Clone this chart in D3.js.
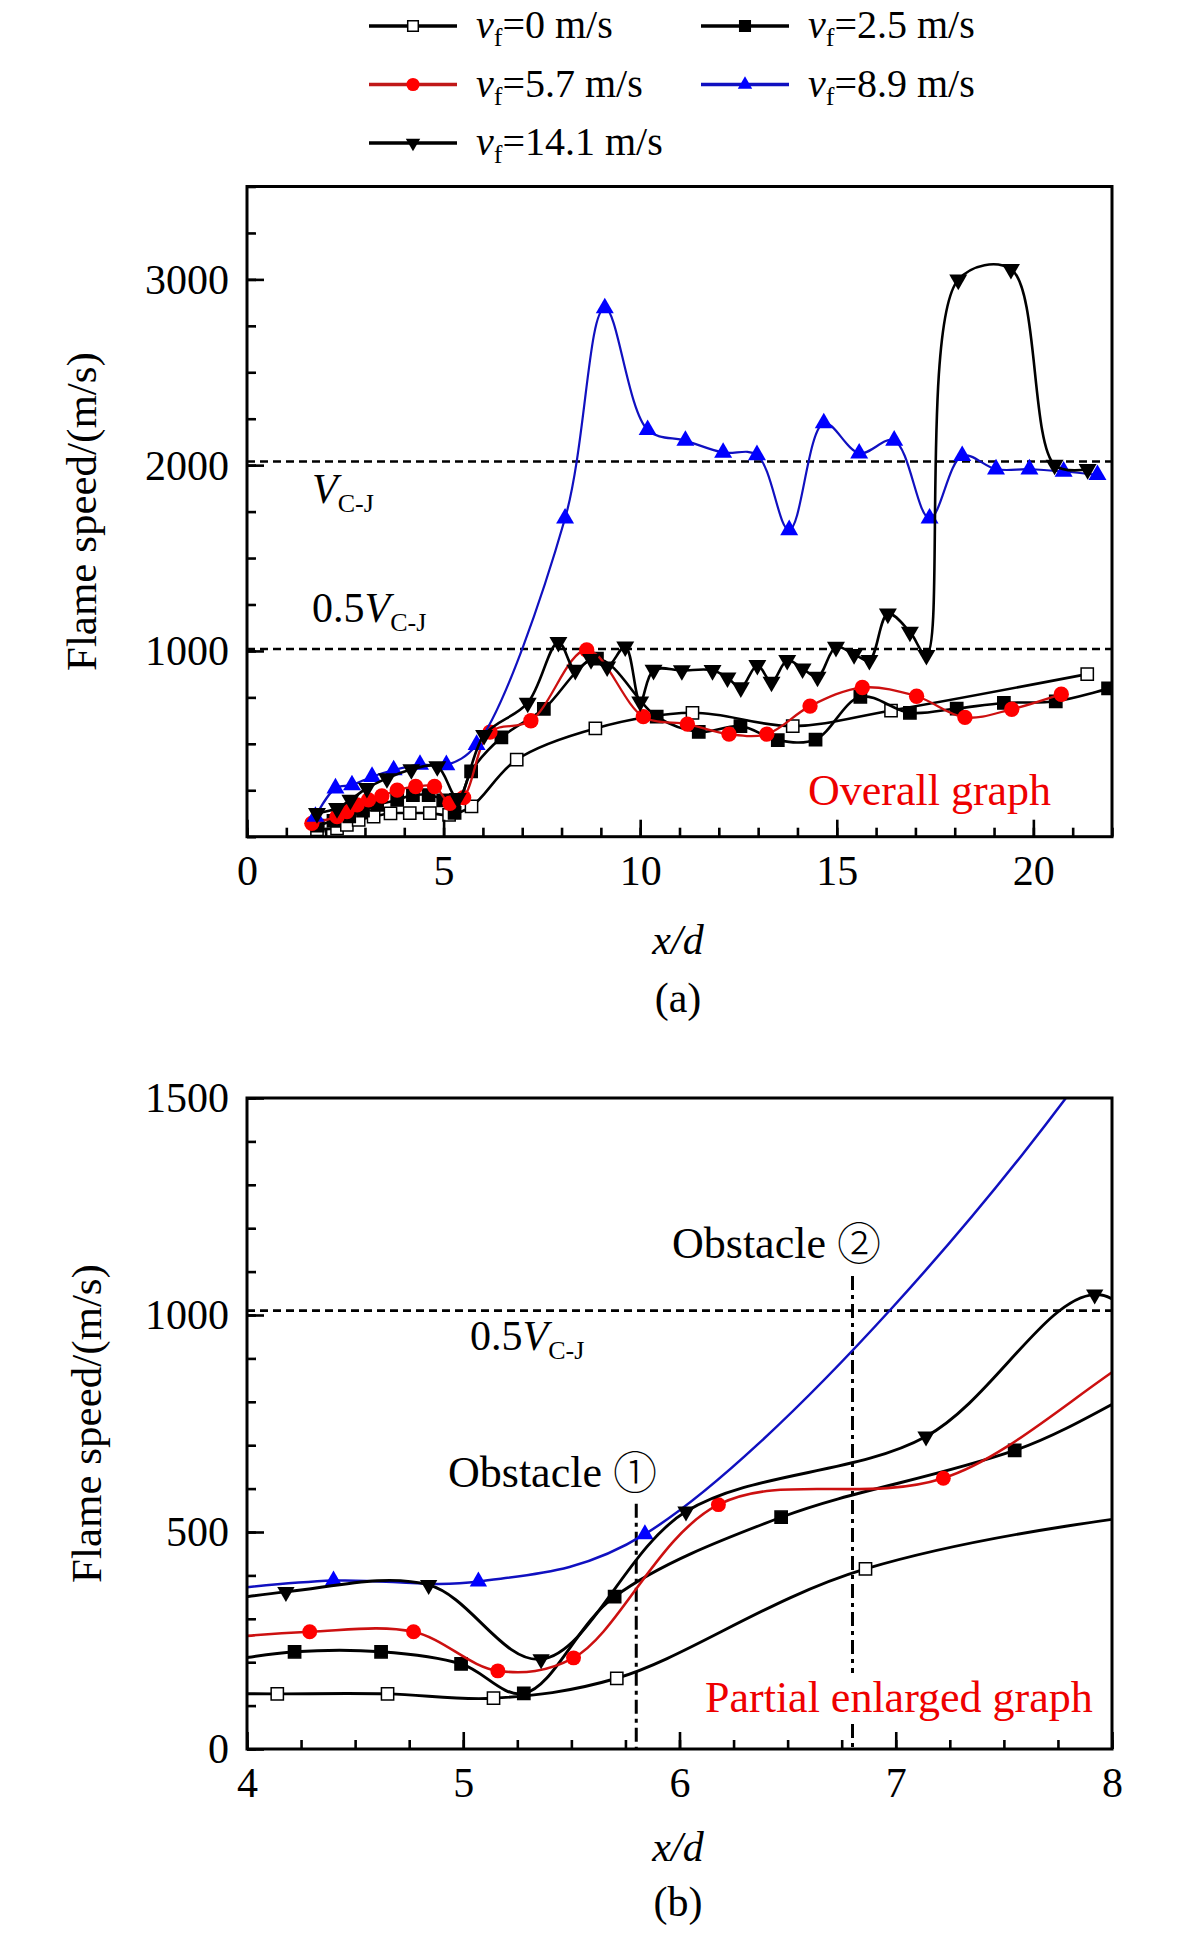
<!DOCTYPE html>
<html>
<head>
<meta charset="utf-8">
<script src="https://cdn.jsdelivr.net/npm/d3@7"></script>
<style>
  body { margin: 0; background: #fff; }
  text { font-family: "Liberation Serif", "Times New Roman", serif; }
</style>
</head>
<body>
<svg id="chart" width="1181" height="1937"></svg>
<script>
// x/d positions and flame speeds (m/s), one pair per vf
var xd_v0   = [1.78, 2.29, 2.54, 2.84, 3.22, 3.65, 4.14, 4.65, 5.14, 5.71, 6.86, 8.86, 11.33, 13.88, 16.38, 21.37];
var fs_v0   = [40, 45, 63, 90, 108, 126, 127, 127, 117, 163, 415, 583, 667, 595, 679, 875];

var xd_v25  = [1.8, 2.2, 2.6, 2.95, 3.31, 3.82, 4.22, 4.62, 4.99, 5.28, 5.70, 6.47, 7.55, 8.9, 10.42, 11.49, 12.55, 13.5, 14.46, 15.6, 16.86, 18.05, 19.25, 20.57, 21.9];
var fs_v25  = [60, 85, 110, 140, 171, 198, 224, 224, 196, 128, 351, 534, 688, 958, 646, 564, 595, 520, 523, 753, 667, 690, 720, 729, 798];

var xd_v57  = [1.65, 2.29, 2.54, 2.8, 3.09, 3.43, 3.82, 4.29, 4.77, 5.16, 5.51, 6.18, 7.22, 8.64, 10.08, 11.2, 12.26, 13.22, 14.32, 15.65, 17.03, 18.26, 19.45, 20.71];
var fs_v57  = [72, 108, 135, 171, 198, 219, 251, 270, 270, 180, 210, 563, 624, 1005, 646, 606, 552, 552, 703, 803, 756, 642, 686, 767];

var xd_v89  = [1.74, 2.25, 2.67, 3.18, 3.73, 4.40, 5.07, 5.84, 8.09, 9.10, 10.19, 11.15, 12.11, 12.97, 13.79, 14.67, 15.57, 16.46, 17.36, 18.19, 19.05, 19.90, 20.77, 21.63];
var fs_v89  = [108, 261, 278, 323, 359, 388, 386, 495, 1714, 2845, 2190, 2132, 2068, 2055, 1651, 2226, 2064, 2133, 1714, 2050, 1978, 1978, 1966, 1948];

var xd_v141 = [1.78, 2.29, 2.63, 3.05, 3.56, 4.18, 4.84, 5.36, 6.03, 7.14, 7.92, 8.35, 8.75, 9.16, 9.62, 10.0, 10.34, 11.06, 11.84, 12.22, 12.56, 12.98, 13.34, 13.74, 14.13, 14.51, 14.98, 15.44, 15.83, 16.3, 16.86, 17.28, 18.09, 19.43, 20.54, 21.38];
var fs_v141 = [126, 153, 198, 261, 314, 362, 378, 207, 547, 720, 1047, 897, 955, 915, 1023, 727, 897, 895, 896, 856, 803, 923, 833, 950, 905, 860, 1021, 982, 950, 1200, 1102, 977, 2998, 3055, 2001, 1978];

var vfLabels = ["0", "2.5", "5.7", "8.9", "14.1"];
var vCJ = 2020;                 // C-J speed, dashed reference lines at vCJ and vCJ/2
var obstacleX = [5.8, 6.8];     // obstacle positions, panel (b)
var obstacleTop = [565, 1090];  // where the dash-dot markers stop
var obstacleText = ["\u2460", "\u2461"];

var ticksA_x = [0, 5, 10, 15, 20];
var ticksA_y = [1000, 2000, 3000];
var ticksB_x = [4, 5, 6, 7, 8];
var ticksB_y = [0, 500, 1000, 1500];

var series = [
  {xs: xd_v0,   ys: fs_v0,   type: d3.symbolSquare,   fill: "#fff",    mstroke: "#000", line: "#000",    lw: 2.6, rot: 0},
  {xs: xd_v25,  ys: fs_v25,  type: d3.symbolSquare,   fill: "#000",    mstroke: "#000", line: "#000",    lw: 2.6, rot: 0},
  {xs: xd_v57,  ys: fs_v57,  type: d3.symbolCircle,   fill: "#ff0000", mstroke: "none", line: "#cc1010", lw: 2.3, rot: 0},
  {xs: xd_v89,  ys: fs_v89,  type: d3.symbolTriangle, fill: "#0000ff", mstroke: "none", line: "#1010c0", lw: 2.2, rot: 0},
  {xs: xd_v141, ys: fs_v141, type: d3.symbolTriangle, fill: "#000",    mstroke: "none", line: "#000",    lw: 2.6, rot: 180}
];

var svg = d3.select("#chart");
svg.append("rect").attr("width", 1181).attr("height", 1937).attr("fill", "#fff");

var L = 247, R = 1112;

// marker area: 0 legend, 1 panel (a), 2 panel (b)
function symSize(s, which) {
  if (s.type === d3.symbolSquare) return [112, 150, 150][which];
  if (s.type === d3.symbolCircle) return [135, 185, 175][which];
  return [90, 140, 130][which];
}

function subText(g, x, y, pre, sub, size) {
  var t = g.append("text").attr("x", x).attr("y", y).attr("font-size", size).attr("fill", "#000");
  if (pre[0]) t.append("tspan").text(pre[0]);
  t.append("tspan").attr("font-style", "italic").text(pre[1]);
  t.append("tspan").attr("font-size", Math.round(size * 0.62)).attr("dy", 9).text(sub);
  return t;
}

function panel(cfg) {
  var x = d3.scaleLinear().domain(cfg.xd).range([L, R]);
  var y = d3.scaleLinear().domain(cfg.yd).range([cfg.bottom, cfg.top]);
  var g = svg.append("g");

  g.append("clipPath").attr("id", cfg.id)
    .append("rect").attr("x", L).attr("y", cfg.top).attr("width", R - L).attr("height", cfg.bottom - cfg.top);

  var plot = g.append("g").attr("clip-path", "url(#" + cfg.id + ")");

  // reference lines
  cfg.refs.forEach(function (v) {
    plot.append("line")
      .attr("x1", L).attr("x2", R).attr("y1", y(v)).attr("y2", y(v))
      .attr("stroke", "#000").attr("stroke-width", 2.6).attr("stroke-dasharray", "8 5");
  });

  if (cfg.obstacles) {
    obstacleX.forEach(function (ox, i) {
      plot.append("line")
        .attr("x1", x(ox)).attr("x2", x(ox)).attr("y1", y(obstacleTop[i])).attr("y2", y(0))
        .attr("stroke", "#000").attr("stroke-width", 3).attr("stroke-dasharray", "14 5 4 5");
    });
  }

  var line = d3.line().curve(d3.curveCatmullRom.alpha(0.5))
    .x(function (d) { return x(d[0]); })
    .y(function (d) { return y(d[1]); });

  series.forEach(function (s) {
    var pts = s.xs.map(function (v, i) { return [v, s.ys[i]]; });
    plot.append("path").datum(pts)
      .attr("d", line).attr("fill", "none")
      .attr("stroke", s.line).attr("stroke-width", cfg.big ? s.lw + 0.3 : s.lw);
    var shown = pts.filter(function (d) { return d[0] >= cfg.xd[0] && d[0] <= cfg.xd[1]; });
    plot.selectAll(null).data(shown).enter().append("path")
      .attr("d", d3.symbol().type(s.type).size(symSize(s, cfg.big ? 2 : 1)))
      .attr("transform", function (d) { return "translate(" + x(d[0]) + "," + y(d[1]) + ") rotate(" + s.rot + ")"; })
      .attr("fill", s.fill).attr("stroke", s.mstroke).attr("stroke-width", 1.5);
  });

  // axes with inward ticks
  function styleAxis(a) {
    a.select(".domain").remove();
    a.selectAll("line").attr("stroke-width", 2.6);
    a.selectAll("text").attr("font-family", "Liberation Serif").attr("font-size", 42).attr("fill", "#000");
  }
  var xb = g.append("g").attr("transform", "translate(0," + cfg.bottom + ")");
  xb.append("g").call(d3.axisBottom(x).tickValues(cfg.xMinor).tickSize(-9).tickFormat("")).call(styleAxis);
  var xm = xb.append("g").call(d3.axisBottom(x).tickValues(cfg.xTicks).tickSize(-17).tickFormat(d3.format("d")));
  styleAxis(xm);
  xm.selectAll("text").attr("y", 48).attr("dy", null);

  var yl = g.append("g").attr("transform", "translate(" + L + ",0)");
  yl.append("g").call(d3.axisLeft(y).tickValues(cfg.yMinor).tickSize(-9).tickFormat("")).call(styleAxis);
  var ym = yl.append("g").call(d3.axisLeft(y).tickValues(cfg.yTicks).tickSize(-17).tickPadding(18).tickFormat(d3.format("d")));
  styleAxis(ym);
  ym.selectAll("text").attr("dy", "0.33em");

  g.append("rect").attr("x", L).attr("y", cfg.top).attr("width", R - L).attr("height", cfg.bottom - cfg.top)
    .attr("fill", "none").attr("stroke", "#000").attr("stroke-width", 3);

  // titles
  g.append("text")
    .attr("transform", "translate(" + cfg.ytx + "," + (cfg.top + cfg.bottom) / 2 + ") rotate(-90)")
    .attr("text-anchor", "middle").attr("font-size", 43).attr("fill", "#000")
    .text("Flame speed/(m/s)");
  g.append("text").attr("x", 678).attr("y", cfg.xty).attr("text-anchor", "middle")
    .attr("font-size", 42).attr("font-style", "italic").text("x/d");
  g.append("text").attr("x", 678).attr("y", cfg.capy).attr("text-anchor", "middle")
    .attr("font-size", 42).text(cfg.cap);

  return {g: g, x: x, y: y};
}

// (a) overall graph
var A = panel({
  id: "clipA", xd: [0, 22], yd: [0, 3500], top: 186.5, bottom: 836.7,
  refs: [vCJ, vCJ / 2], obstacles: false, big: false,
  xTicks: ticksA_x, xMinor: d3.range(0, 23, 1),
  yTicks: ticksA_y, yMinor: d3.range(0, 3501, 250),
  ytx: 96, xty: 954, capy: 1012, cap: "(a)"
});
subText(A.g, 312, 503, ["", "V"], "C-J", 42);
subText(A.g, 312, 622, ["0.5", "V"], "C-J", 42);
A.g.append("text").attr("x", 808).attr("y", 805).attr("font-size", 44).attr("fill", "#ee0000").text("Overall graph");

// (b) partial enlarged graph
var B = panel({
  id: "clipB", xd: [4, 8], yd: [0, 1500], top: 1098, bottom: 1749,
  refs: [vCJ / 2], obstacles: true, big: true,
  xTicks: ticksB_x, xMinor: d3.range(4, 8.001, 0.25),
  yTicks: ticksB_y, yMinor: d3.range(0, 1501, 100),
  ytx: 101, xty: 1861, capy: 1916, cap: "(b)"
});
subText(B.g, 470, 1350, ["0.5", "V"], "C-J", 42);
[[448, 1487], [672, 1258]].forEach(function (p, i) {
  var t = B.g.append("text").attr("x", p[0]).attr("y", p[1]).attr("font-size", 44).attr("fill", "#000");
  t.append("tspan").text("Obstacle ");
  t.append("tspan").attr("font-family", "Noto Sans CJK JP").attr("font-weight", 300).attr("dy", 2).text(obstacleText[i]);
});
// label sits on a white box that breaks the dash-dot line
var pbg = B.g.append("rect").attr("fill", "#fff");
var pl = B.g.append("text").attr("x", 705).attr("y", 1712).attr("font-size", 44).attr("fill", "#ee0000").text("Partial enlarged graph");
var bb = pl.node().getBBox();
pbg.attr("x", bb.x - 4).attr("y", bb.y).attr("width", bb.width + 8).attr("height", bb.height);

// legend, two columns
var leg = svg.append("g");
series.forEach(function (s, i) {
  var col = i % 2, row = Math.floor(i / 2);
  var lx = col ? 701 : 369, ly = 26 + row * 58.5;
  leg.append("line").attr("x1", lx).attr("x2", lx + 88).attr("y1", ly).attr("y2", ly)
    .attr("stroke", s.line === "#cc1010" ? "#c01818" : s.line).attr("stroke-width", 3.4);
  leg.append("path")
    .attr("d", d3.symbol().type(s.type).size(symSize(s, 0)))
    .attr("transform", "translate(" + (lx + 44) + "," + ly + ") rotate(" + s.rot + ")")
    .attr("fill", s.fill).attr("stroke", s.mstroke).attr("stroke-width", 1.5);
  var t = leg.append("text").attr("x", lx + 107).attr("y", ly + 12).attr("font-size", 40).attr("fill", "#000");
  t.append("tspan").attr("font-style", "italic").text("v");
  t.append("tspan").attr("font-size", 26).attr("dy", 8).text("f");
  t.append("tspan").attr("dy", -8).text("=" + vfLabels[i] + " m/s");
});
</script>
</body>
</html>
